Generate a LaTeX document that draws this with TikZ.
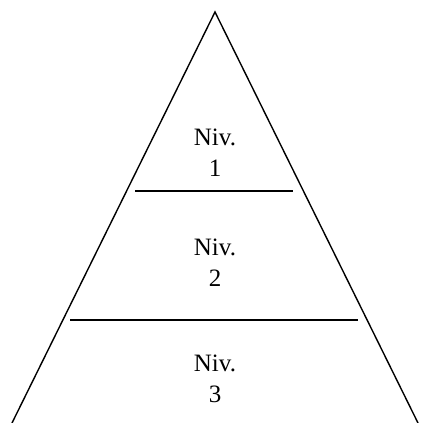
\documentclass[tikz,border=0pt]{standalone}
\usepackage{fontspec}
\setmainfont{Liberation Serif}
\begin{document}
\begin{tikzpicture}[x=1pt,y=-1pt,
  edge/.style={line width=1.4pt, line join=miter},
  lbl/.style={align=center, inner sep=0pt, font=\fontsize{25}{31}\selectfont}]
\useasboundingbox (0,0) rectangle (421,423);
\coordinate (apex) at (215,12);
\coordinate (bl) at (12,423);
\coordinate (br) at (418,423);
\draw[edge] (bl) -- (apex) -- (br);
\coordinate (a1) at (135,191);
\coordinate (b1) at (293,191);
\coordinate (a2) at (70,320);
\coordinate (b2) at (358,320);
\draw[edge] (a1) -- (b1);
\draw[edge] (a2) -- (b2);
\node[lbl] (n1) at (215,153) {Niv.\\1};
\node[lbl] (n2) at (215,263) {Niv.\\2};
\node[lbl] (n3) at (215,379) {Niv.\\3};
\end{tikzpicture}
\end{document}
